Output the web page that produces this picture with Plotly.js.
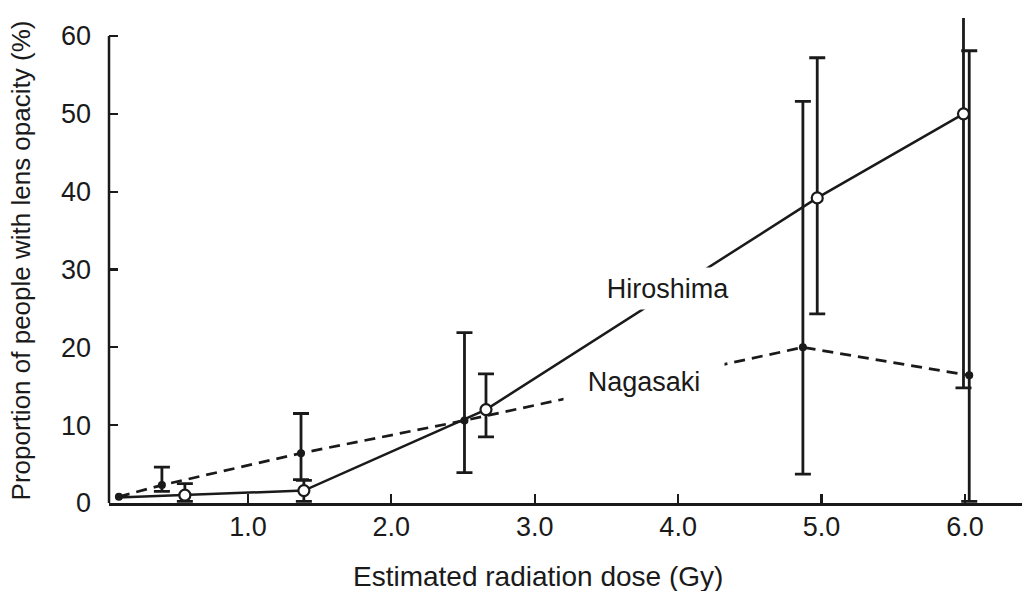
<!DOCTYPE html>
<html>
<head>
<meta charset="utf-8">
<script src="https://cdn.plot.ly/plotly-3.0.1.min.js"></script>
<style>html,body{margin:0;padding:0;background:#fff;}#chart{width:1023px;height:591px;}</style>
</head>
<body>
<div id="chart"></div>
<script>
// Hiroshima (open circles, solid line)
const hiroDose  = [0.09, 0.56, 1.39, 2.66, 4.97, 5.99];
const hiroPct   = [0.7, 1.0, 1.6, 12.0, 39.2, 50.0];
const hiroUpper = [NaN, 2.5, 2.9, 16.6, 57.2, 90.0];
const hiroLower = [NaN, 0.2, 0.2, 8.5, 24.3, 14.8];

// Nagasaki (filled dots, dashed line)
const nagaDose  = [0.10, 0.40, 1.37, 2.51, 4.87, 6.03];
const nagaPct   = [0.8, 2.3, 6.4, 10.6, 20.0, 16.4];
const nagaUpper = [NaN, 4.6, 11.5, 21.9, 51.6, 58.1];
const nagaLower = [NaN, 1.5, 3.0, 3.9, 3.7, 0.2];

const yTicks = [0, 10, 20, 30, 40, 50, 60];
const xTicks = [1, 2, 3, 4, 5, 6];
const xTickLabels = ['1.0', '2.0', '3.0', '4.0', '5.0', '6.0'];

const INK = '#1a1a1a';
const FONT = 'Liberation Sans, Arial, sans-serif';

function plus(vals, up) { return up.map((u, i) => isNaN(u) ? NaN : u - vals[i]); }
function minus(vals, lo) { return lo.map((l, i) => isNaN(l) ? NaN : vals[i] - l); }

const naga = {
  x: nagaDose, y: nagaPct, type: 'scatter', mode: 'lines+markers', name: 'Nagasaki',
  line: {color: INK, width: 2.7, dash: '11px,7px'},
  marker: {color: INK, size: 8, symbol: 'circle'},
  error_y: {type: 'data', symmetric: false, array: plus(nagaPct, nagaUpper),
            arrayminus: minus(nagaPct, nagaLower), color: INK, thickness: 2.8, width: 8},
  hoverinfo: 'x+y'
};
const hiro = {
  x: hiroDose, y: hiroPct, type: 'scatter', mode: 'lines', name: 'Hiroshima',
  line: {color: INK, width: 2.5},
  error_y: {type: 'data', symmetric: false, array: plus(hiroPct, hiroUpper),
            arrayminus: minus(hiroPct, hiroLower), color: INK, thickness: 2.8, width: 8},
  hoverinfo: 'x+y'
};
const hiroDots = {
  x: hiroDose.slice(1), y: hiroPct.slice(1), type: 'scatter', mode: 'markers', name: 'Hiroshima',
  marker: {color: 'rgb(255,255,255)', opacity: 1, size: 11, symbol: 'circle',
           line: {color: INK, width: 2.2}},
  hoverinfo: 'x+y'
};

const layout = {
  width: 1023, height: 591,
  margin: {l: 109, r: 1, t: 18, b: 88},
  paper_bgcolor: '#fff', plot_bgcolor: '#fff',
  showlegend: false,
  font: {family: FONT, color: INK, size: 27},
  xaxis: {
    range: [0.031, 6.398], showgrid: false, zeroline: false,
    showline: true, linecolor: INK, linewidth: 2.5,
    ticks: 'inside', ticklen: 9, tickwidth: 2.2, tickcolor: INK,
    tickvals: xTicks, ticktext: xTickLabels,
    tickfont: {family: FONT, size: 27, color: INK},
    ticklabelstandoff: -2
  },
  yaxis: {
    range: [0, 62.31], showgrid: false, zeroline: false, showline: false,
    ticks: 'inside', ticklen: 9, tickwidth: 2.2, tickcolor: INK,
    tickvals: yTicks, ticktext: yTicks.map(String),
    tickfont: {family: FONT, size: 27, color: INK},
    ticklabelstandoff: 17,
    title: {text: 'Proportion of people with lens opacity (%)', font: {family: FONT, size: 26, color: INK}, standoff: 22}
  },
  shapes: [
    {type: 'line', xref: 'paper', yref: 'y', x0: 0, x1: 0, y0: 0, y1: yTicks[yTicks.length - 1],
     line: {color: INK, width: 2.5}}
  ],
  annotations: [
    {x: 0.47, y: 0, xref: 'paper', yref: 'paper', xanchor: 'center', yanchor: 'middle', yshift: -73,
     text: 'Estimated radiation dose (Gy)', showarrow: false, font: {family: FONT, size: 28, color: INK}},
    {x: 3.93, y: 27.5, xref: 'x', yref: 'y', text: 'Hiroshima', showarrow: false,
     bgcolor: '#fff', width: 134, height: 39, font: {family: FONT, size: 27, color: INK}},
    {x: 3.76, y: 15.5, xref: 'x', yref: 'y', text: 'Nagasaki', showarrow: false,
     bgcolor: '#fff', width: 158, height: 36, font: {family: FONT, size: 27, color: INK}}
  ]
};

Plotly.newPlot('chart', [naga, hiro, hiroDots], layout, {staticPlot: true, displayModeBar: false});
</script>
</body>
</html>
